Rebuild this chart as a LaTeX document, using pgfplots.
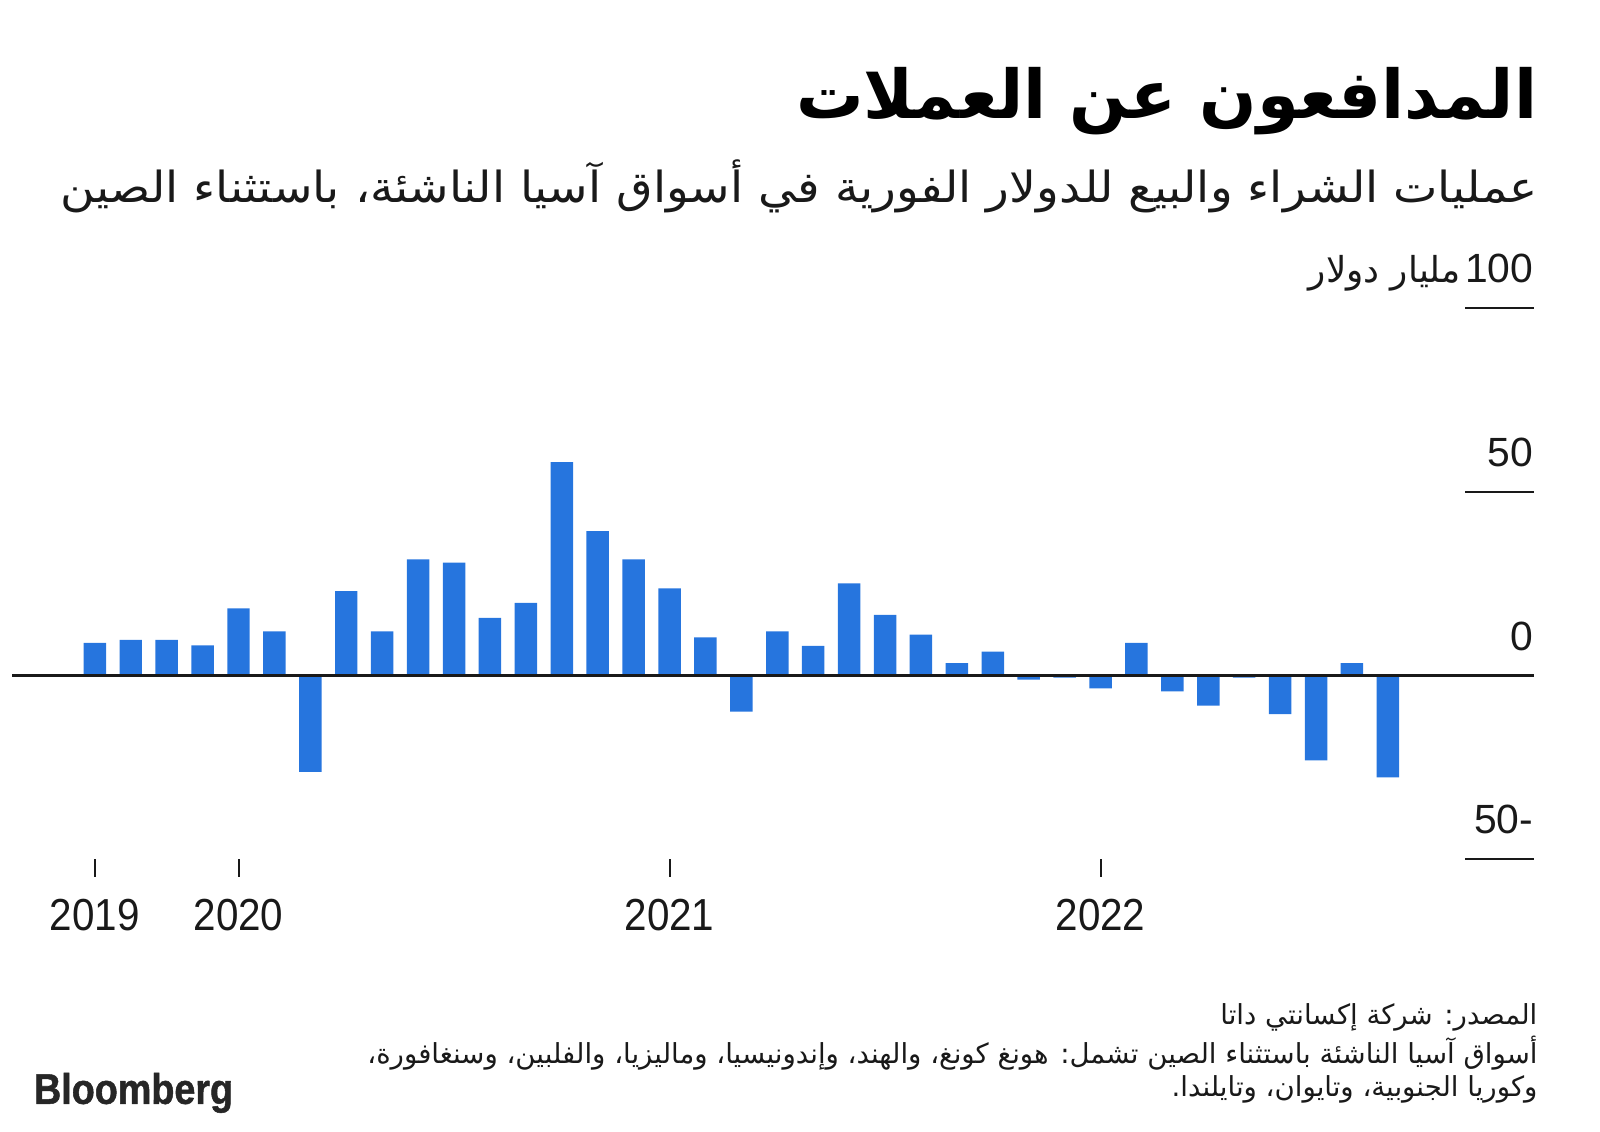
\documentclass[border=0pt]{standalone}
\usepackage{pgfplots}
\pgfplotsset{compat=1.18}
\usepackage{fontspec}
\setmainfont{Liberation Sans}
\newfontfamily\arabicfont[Script=Arabic]{DejaVu Sans}
\newfontfamily\bbfont[FakeBold=1.2]{Liberation Sans Bold}
\TeXXeTstate=1
\definecolor{barblue}{RGB}{38,117,222}
\definecolor{txt}{RGB}{25,25,25}
\begin{document}
\begin{tikzpicture}[x=1pt,y=1pt,
  yearlbl/.style={font=\fontsize{22}{22}\selectfont, text=txt, inner sep=0pt, xscale=0.9}]
\path[use as bounding box] (0,0) rectangle (784,554.5);
\begin{axis}[at={(6pt,133.5pt)}, anchor=south west, scale only axis,
  width=745.5pt, height=270pt, xmin=-2.3, xmax=40.06, ymin=-50, ymax=100,
  axis line style={draw=none}, ticks=none, clip=false, ybar, bar width=0.625]
\addplot[fill=barblue, draw=none] coordinates {
(0,8.9) (1,9.7) (2,9.7) (3,8.2) (4,18.3) (5,12.0) (6,-26.2) (7,23.0) (8,12.0)
(9,31.6) (10,30.7) (11,15.7) (12,19.8) (13,58.1) (14,39.3) (15,31.6) (16,23.7)
(17,10.4) (18,-9.8) (19,12.0) (20,8.1) (21,25.1) (22,16.5) (23,11.1) (24,3.4)
(25,6.5) (26,-1.1) (27,-0.6) (28,-3.5) (29,8.9) (30,-4.3) (31,-8.2) (32,-0.6)
(33,-10.5) (34,-23.1) (35,3.4) (36,-27.7)};
\draw[line width=1.1pt, txt] (axis cs:-2.3,0) -- (axis cs:40.06,0);
\draw[line width=1.1pt, txt] (axis cs:38.15,50) -- (axis cs:40.06,50);
\draw[line width=1.1pt, txt] (axis cs:38.15,100) -- (axis cs:40.06,100);
\draw[line width=1.1pt, txt] (axis cs:38.15,-50) -- (axis cs:40.06,-50);
\node[anchor=base east, inner sep=0pt, font=\fontsize{20}{20}\selectfont, text=txt] at ([yshift=12.5pt]axis cs:40.06,100) {100};
\node[anchor=base east, inner sep=0pt, font=\fontsize{20}{20}\selectfont, text=txt] at ([yshift=12.5pt]axis cs:40.06,50) {50};
\node[anchor=base east, inner sep=0pt, font=\fontsize{20}{20}\selectfont, text=txt] at ([yshift=12.5pt]axis cs:40.06,0) {0};
\node[anchor=base east, inner sep=0pt, font=\fontsize{20}{20}\selectfont, text=txt] at ([yshift=12.5pt]axis cs:40.06,-50) {50-};
\draw[line width=1pt, txt] (axis cs:0,-50) -- ([yshift=-8.5pt]axis cs:0,-50);
\draw[line width=1pt, txt] (axis cs:4,-50) -- ([yshift=-8.5pt]axis cs:4,-50);
\draw[line width=1pt, txt] (axis cs:16,-50) -- ([yshift=-8.5pt]axis cs:16,-50);
\draw[line width=1pt, txt] (axis cs:28,-50) -- ([yshift=-8.5pt]axis cs:28,-50);
\node[yearlbl] at ([yshift=-27.5pt]axis cs:0,-50) {2019};
\node[yearlbl] at ([yshift=-27.5pt]axis cs:4,-50) {2020};
\node[yearlbl] at ([yshift=-27.5pt]axis cs:16,-50) {2021};
\node[yearlbl] at ([yshift=-27.5pt]axis cs:28,-50) {2022};
\end{axis}
\node[anchor=east, inner sep=0pt, font=\arabicfont\bfseries\fontsize{33}{33}\selectfont] at (753.5,505) {\beginR المدافعون عن العملات\endR};
\node[anchor=east, inner sep=0pt, xscale=1.1, font=\arabicfont\fontsize{21}{21}\selectfont, text=txt] at (753.5,463) {\beginR عمليات الشراء والبيع للدولار الفورية في أسواق آسيا الناشئة، باستثناء الصين\endR};
\node[anchor=base east, inner sep=0pt, font=\arabicfont\fontsize{17.5}{17.5}\selectfont, text=txt] at (716,416) {\beginR مليار دولار\endR};
\node[anchor=east, inner sep=0pt, font=\arabicfont\fontsize{13.5}{13.5}\selectfont, text=txt] at (753.5,56) {\beginR المصدر: شركة إكسانتي داتا\endR};
\node[anchor=east, inner sep=0pt, font=\arabicfont\fontsize{13.5}{13.5}\selectfont, text=txt] at (753.5,38.5) {\beginR أسواق آسيا الناشئة باستثناء الصين تشمل: هونغ كونغ، والهند، وإندونيسيا، وماليزيا، والفلبين، وسنغافورة،\endR};
\node[anchor=east, inner sep=0pt, font=\arabicfont\fontsize{13.5}{13.5}\selectfont, text=txt] at (753.5,20.5) {\beginR وكوريا الجنوبية، وتايوان، وتايلندا.\endR};
\node[anchor=west, inner sep=0pt, font=\bbfont\fontsize{21}{21}\selectfont, xscale=0.88, text=black!85] at (16.5,19) {Bloomberg};
\end{tikzpicture}
\end{document}
